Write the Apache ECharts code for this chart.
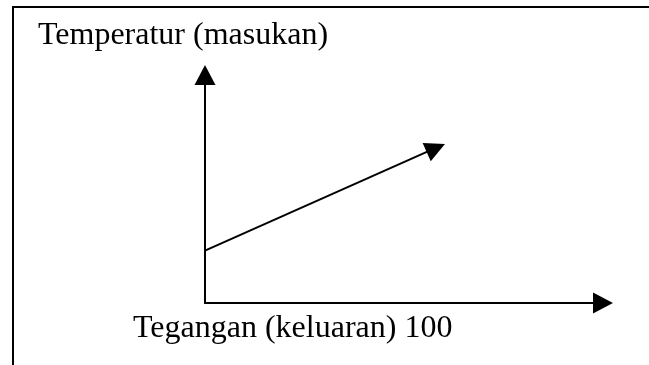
<!DOCTYPE html>
<html>
<head>
<meta charset="utf-8">
<script src="https://cdn.jsdelivr.net/npm/echarts@6/dist/echarts.min.js"></script>
<style>
  html, body { margin: 0; padding: 0; background: #fff; }
  #main { width: 649px; height: 365px; }
</style>
</head>
<body>
<div id="main"></div>
<script>
// data
var xName = 'Tegangan (keluaran) 100';
var yName = 'Temperatur (masukan)';
var lineX = [0, 58];
var lineY = [23, 68];

var coords = [];
for (var i = 0; i < lineX.length; i++) {
    coords.push([lineX[i], lineY[i]]);
}

var font = {
    fontFamily: 'Liberation Serif',
    fontSize: 32,
    fontWeight: 'normal',
    color: '#000'
};

var myChart = echarts.init(document.getElementById('main'));

var option = {
    animation: false,
    backgroundColor: '#fff',
    title: [
        { text: yName, left: 38, top: 20, padding: 0, textStyle: font },
        { text: xName, left: 133, top: 313, padding: 0, textStyle: font }
    ],
    grid: { left: 205, right: 46, top: 75, bottom: 62 },
    xAxis: {
        type: 'value',
        min: 0,
        max: 100,
        axisLine: {
            lineStyle: { color: '#000', width: 2 },
            symbol: ['none', 'triangle'],
            symbolSize: [21, 20]
        },
        axisTick: { show: false },
        axisLabel: { show: false },
        splitLine: { show: false }
    },
    yAxis: {
        type: 'value',
        min: 0,
        max: 100,
        axisLine: {
            lineStyle: { color: '#000', width: 2 },
            symbol: ['none', 'triangle'],
            symbolSize: [21, 20]
        },
        axisTick: { show: false },
        axisLabel: { show: false },
        splitLine: { show: false }
    },
    // bingkai atas dan kiri
    graphic: [{
        type: 'polyline',
        shape: { points: [[13, 365], [13, 7], [649, 7]] },
        style: { stroke: '#000', lineWidth: 2, fill: null }
    }],
    series: [{
        type: 'lines',
        coordinateSystem: 'cartesian2d',
        symbol: ['none', 'triangle'],
        symbolSize: [21, 20],
        lineStyle: { color: '#000', width: 2, opacity: 1 },
        data: [{ coords: coords }]
    }]
};

myChart.setOption(option);
</script>
</body>
</html>
